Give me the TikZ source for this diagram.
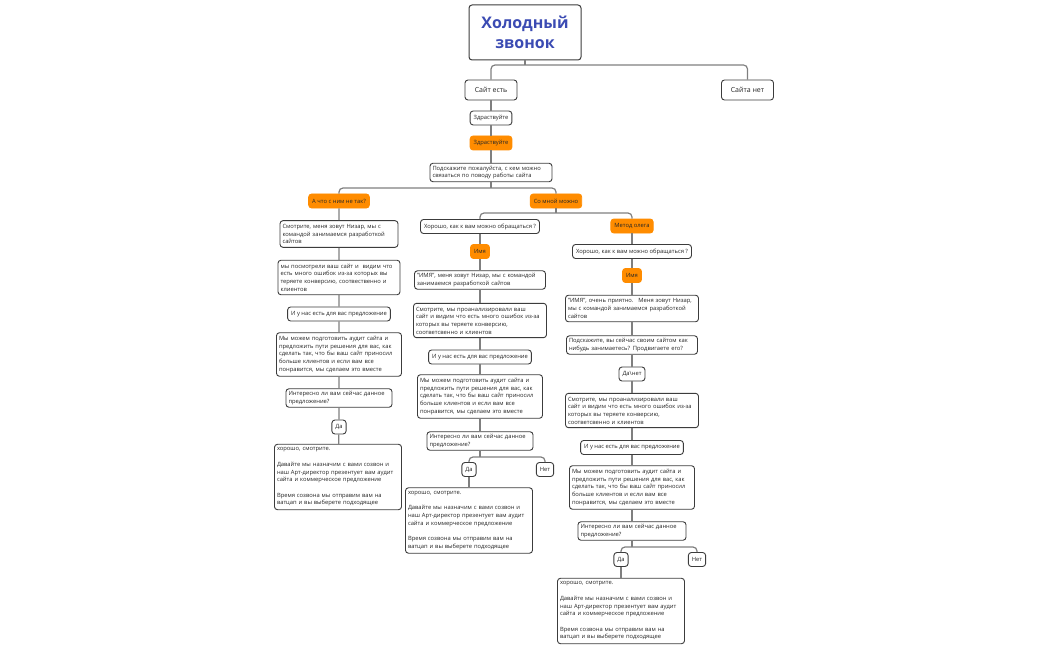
\documentclass[tikz,border=0pt]{standalone}
\usepackage{fontspec}
\setmainfont{Open Sans}
\definecolor{titleblue}{HTML}{3B4BB3}
\definecolor{tagorange}{HTML}{FF8C00}
\definecolor{boxline}{HTML}{3C3C3C}
\definecolor{linkgray}{HTML}{7F7F7F}
\begin{document}
\begin{tikzpicture}[x=1pt, y=-1pt,
  box/.style={draw=boxline, line width=0.9pt, rounded corners=3pt, fill=white,
    align=left, inner xsep=2.5pt, inner ysep=3.5pt,
    font=\fontsize{5.8}{7.7}\selectfont, text=black!85},
  note/.style={box, align=center, minimum height=14pt, inner ysep=1pt, inner xsep=3.5pt},
  tag/.style={note, draw=tagorange, fill=tagorange},
  big/.style={box, align=center, minimum width=52pt, minimum height=20pt,
    font=\fontsize{7}{8.5}\selectfont},
  title/.style={draw=boxline, line width=1pt, rounded corners=3pt,
    minimum width=112pt, minimum height=55pt, align=center,
    font=\fontsize{16}{20}\selectfont\bfseries, text=titleblue},
  link/.style={draw=linkgray, line width=1.2pt, rounded corners=4pt}]
\useasboundingbox (0,0) rectangle (1050,650);
% top of the tree
\node[title] (cold) at (525,32.5) {Холодный\\звонок};
\node[big] (site) at (491,90) {Сайт есть};
\node[big] (nosite) at (747.5,90) {Сайта нет};
\node[note] (hi) at (491,118) {Здраствуйте};
\node[tag] (hitag) at (491,143) {Здраствуйте};
\node[box, text width=117pt, inner ysep=2.5pt] (whom) at (491,172.5) {Подскажите пожалуйста, с кем можно\\связаться по поводу работы сайта};
\node[tag] (wrong) at (339,201) {А что с ним не так?};
\node[tag] (withme) at (556,201) {Со мной можно};
\node[note] (howm) at (480,226.5) {Хорошо, как к вам можно обращаться ?};
\node[tag] (oleg) at (632,226) {Метод олега};
% left column
\node[box, text width=113pt] (l1) at (339,234) {Смотрите, меня зовут Низар, мы с\\командой занимаемся разработкой\\сайтов};
\node[box, text width=117pt] (l2) at (339,277.5) {мы посмотрели ваш сайт и \ видим что\\есть много ошибок из-за которых вы\\теряете конверсию, соотвественно и\\клиентов};
\node[note] (l3) at (339,314) {И у нас есть для вас предложение};
\node[box, text width=120pt] (l4) at (339,354.5) {Мы можем подготовить аудит сайта и\\предложить пути решения для вас, как\\сделать так, что бы ваш сайт приносил\\больше клиентов и если вам все\\понравится, мы сделаем это вместе};
\node[box, text width=101pt, inner ysep=2.5pt] (l5) at (339,398) {Интересно ли вам сейчас данное\\предложение?};
\node[note] (l6) at (339,427) {Да};
\node[box, text width=122pt] (l7) at (338,477) {хорошо, смотрите.\\~\\Давайте мы назначим с вами созвон и\\наш Арт-директор презентует вам аудит\\сайта и коммерческое предложение\\~\\Время созвона мы отправим вам на\\ватцап и вы выберете подходящее};
% middle column
\node[tag] (m1) at (480,251.5) {Имя};
\node[box, text width=126pt, inner ysep=2.5pt] (m2) at (480,280) {"ИМЯ", меня зовут Низар, мы с командой\\занимаемся разработкой сайтов};
\node[box, text width=128pt] (m3) at (480,320.5) {Смотрите, мы проанализировали ваш\\сайт и видим что есть много ошибок из-за\\которых вы теряете конверсию,\\соответсвенно и клиентов};
\node[note] (m4) at (480,357) {И у нас есть для вас предложение};
\node[box, text width=120pt] (m5) at (480,396.5) {Мы можем подготовить аудит сайта и\\предложить пути решения для вас, как\\сделать так, что бы ваш сайт приносил\\больше клиентов и если вам все\\понравится, мы сделаем это вместе};
\node[box, text width=101pt, inner ysep=2.5pt] (m6) at (480,441) {Интересно ли вам сейчас данное\\предложение?};
\node[note] (m7) at (469,469.5) {Да};
\node[note] (m8) at (545,469.5) {Нет};
\node[box, text width=122pt] (m9) at (469,520.5) {хорошо, смотрите.\\~\\Давайте мы назначим с вами созвон и\\наш Арт-директор презентует вам аудит\\сайта и коммерческое предложение\\~\\Время созвона мы отправим вам на\\ватцап и вы выберете подходящее};
% right column
\node[note] (r1) at (632,251.5) {Хорошо, как к вам можно обращаться ?};
\node[tag] (r2) at (632,275.5) {Имя};
\node[box, text width=128pt] (r3) at (632,308.5) {"ИМЯ", очень приятно. \ Меня зовут Низар,\\мы с командой занимаемся разработкой\\сайтов};
\node[box, text width=126pt, inner ysep=2.5pt] (r4) at (632,345) {Подскажите, вы сейчас своим сайтом как\\нибудь занимаетесь? Продвигаете его?};
\node[note] (r5) at (632,374) {Да\textbackslash нет};
\node[box, text width=128pt] (r6) at (632,410.5) {Смотрите, мы проанализировали ваш\\сайт и видим что есть много ошибок из-за\\которых вы теряете конверсию,\\соответсвенно и клиентов};
\node[note] (r7) at (632,447.5) {И у нас есть для вас предложение};
\node[box, text width=120pt] (r8) at (632,487.5) {Мы можем подготовить аудит сайта и\\предложить пути решения для вас, как\\сделать так, что бы ваш сайт приносил\\больше клиентов и если вам все\\понравится, мы сделаем это вместе};
\node[box, text width=103pt, inner ysep=2.5pt] (r9) at (632,531) {Интересно ли вам сейчас данное\\предложение?};
\node[note] (r10) at (621,559.5) {Да};
\node[note] (r11) at (697,559.5) {Нет};
\node[box, text width=122pt] (r12) at (621,611) {хорошо, смотрите.\\~\\Давайте мы назначим с вами созвон и\\наш Арт-директор презентует вам аудит\\сайта и коммерческое предложение\\~\\Время созвона мы отправим вам на\\ватцап и вы выберете подходящее};
% connectors
\coordinate (b1) at (525,65);
\coordinate (b2) at (491,188);
\coordinate (b3) at (556,213);
\coordinate (b4) at (480,457);
\coordinate (b5) at (632,547);
\draw[link] (cold) -- (b1);
\draw[link] (site.north) |- (b1) -| (nosite.north);
\draw[link] (site) -- (hi) -- (hitag) -- (whom) -- (b2);
\draw[link] (wrong.north) |- (b2) -| (withme.north);
\draw[link] (withme) -- (b3);
\draw[link] (howm.north) |- (b3) -| (oleg.north);
\draw[link] (wrong) -- (l1) -- (l2) -- (l3) -- (l4) -- (l5) -- (l6) -- (l7);
\draw[link] (howm) -- (m1) -- (m2) -- (m3) -- (m4) -- (m5) -- (m6) -- (b4);
\draw[link] (m7.north) |- (b4) -| (m8.north);
\draw[link] (m7) -- (m9);
\draw[link] (oleg) -- (r1) -- (r2) -- (r3) -- (r4) -- (r5) -- (r6) -- (r7) -- (r8) -- (r9) -- (b5);
\draw[link] (r10.north) |- (b5) -| (r11.north);
\draw[link] (r10) -- (r12);
\end{tikzpicture}
\end{document}
